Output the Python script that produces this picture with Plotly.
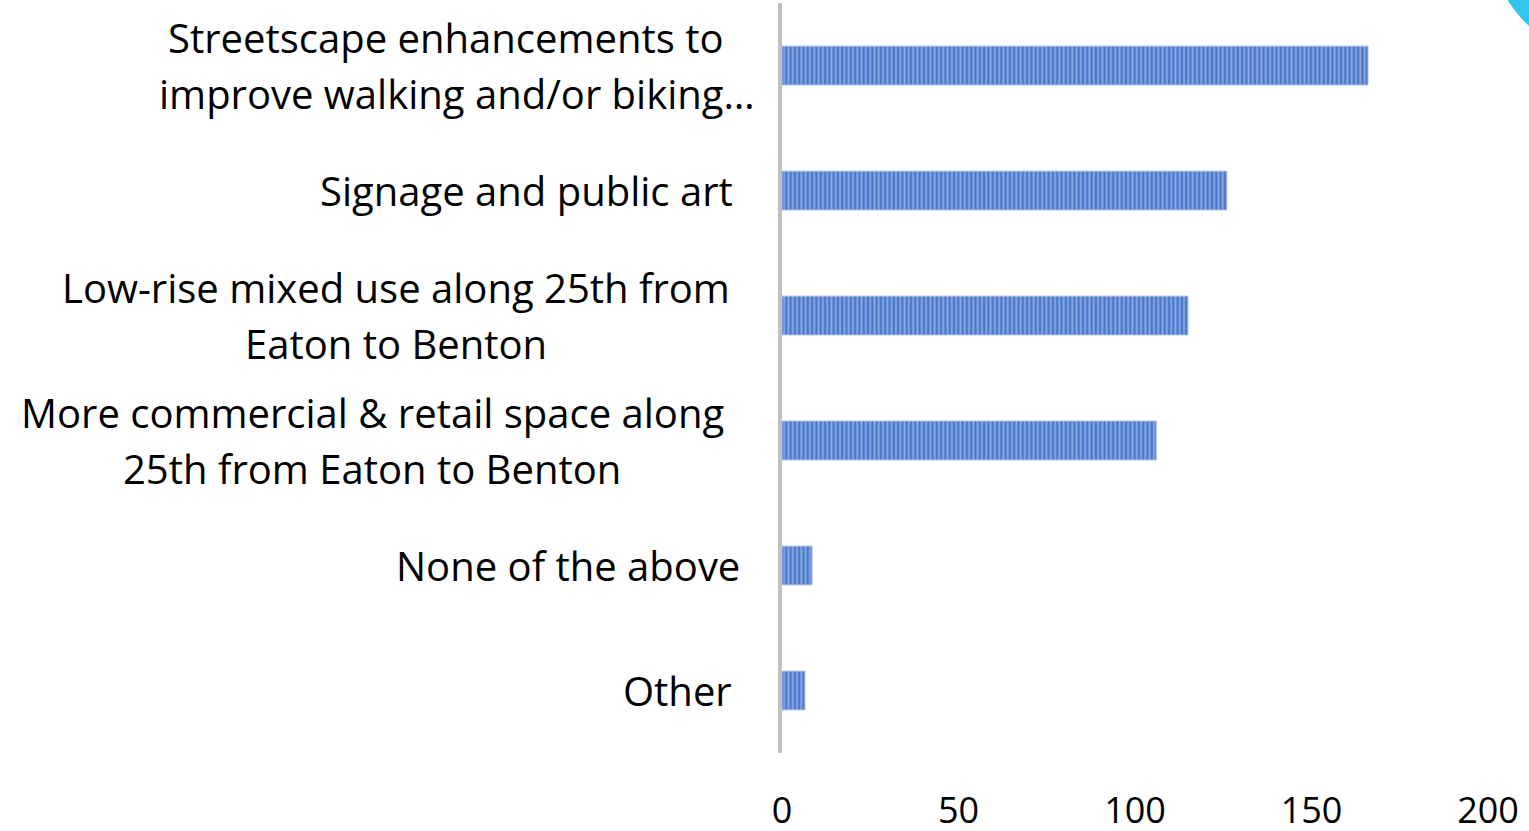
import plotly.graph_objects as go

# Data (top to bottom)
categories = [
    "Streetscape enhancements to<br>improve walking and/or biking…",
    "Signage and public art",
    "Low-rise mixed use along 25th from<br>Eaton to Benton",
    "More commercial & retail space along<br>25th from Eaton to Benton",
    "None of the above",
    "Other",
]
values = [166, 126, 115, 106, 8.5, 6.5]
x_ticks = [0, 50, 100, 150, 200]

# Layout helpers (pixel geometry of the page)
W, H = 1529, 831
ML, MR, MT, MB = 782, 41, 3, 78
PW, PH = W - ML - MR, H - MT - MB
# horizontal centre (px) of each label line, from the reference
label_centers = [[445, 457], [526], [396, 396], [372, 372], [568], [677]]
FONT = "Open Sans"
FS = 40
TICK_FS = 36
LINE_GAP = 56

fig = go.Figure()
fig.add_trace(go.Bar(
    y=list(range(len(categories))),
    x=values,
    orientation="h",
    marker=dict(
        color="#4a78cc",
        line=dict(color="#9db6e2", width=1),
        pattern=dict(shape="|", fgcolor="#cfdcf3", bgcolor="#4a78cc", size=4.3, solidity=0.42),
    ),
    hoverinfo="x",
))

annotations = []
for i, (lab, centers) in enumerate(zip(categories, label_centers)):
    lines = lab.split("<br>")
    n = len(lines)
    for j, (line, cx) in enumerate(zip(lines, centers)):
        annotations.append(dict(
            text=line, xref="paper", yref="y",
            x=(cx - ML) / PW, y=i,
            xanchor="center", yanchor="middle",
            yshift=-(j - (n - 1) / 2) * LINE_GAP,
            showarrow=False,
            font=dict(family=FONT, size=FS, color="#000000"),
        ))

fig.update_layout(
    width=W, height=H,
    margin=dict(l=ML, r=MR, t=MT, b=MB, autoexpand=False),
    paper_bgcolor="white", plot_bgcolor="white",
    bargap=0.69,
    showlegend=False,
    annotations=annotations,
    xaxis=dict(
        range=[0, 200], tickvals=x_ticks, ticktext=[str(t) for t in x_ticks],
        showgrid=False, zeroline=False, showline=False, ticks="",
        tickfont=dict(family=FONT, size=TICK_FS, color="#000000"),
        ticklabelstandoff=33, automargin=False,
    ),
    yaxis=dict(
        range=[len(categories) - 0.5, -0.5],
        showticklabels=False, showgrid=False, zeroline=False,
        showline=True, linecolor="#c0c0c0", linewidth=4, ticks="",
        automargin=False,
    ),
    shapes=[dict(
        type="path", xref="paper", yref="paper",
        path="M {a},{b} Q {c},{d} {e},{f} L {e},{b} Z".format(
            a=(1507 - ML) / PW, b=1 + (MT + 1) / PH,
            c=(1516 - ML) / PW, d=1 - (14 - MT) / PH,
            e=(1530 - ML) / PW, f=1 - (27 - MT) / PH),
        fillcolor="#33c5eb", line=dict(width=0),
    )],
)

fig.write_html(
    "out.html",
    config={"displayModeBar": False},
    post_script="document.body.style.margin='0';document.body.style.overflow='hidden';",
)
